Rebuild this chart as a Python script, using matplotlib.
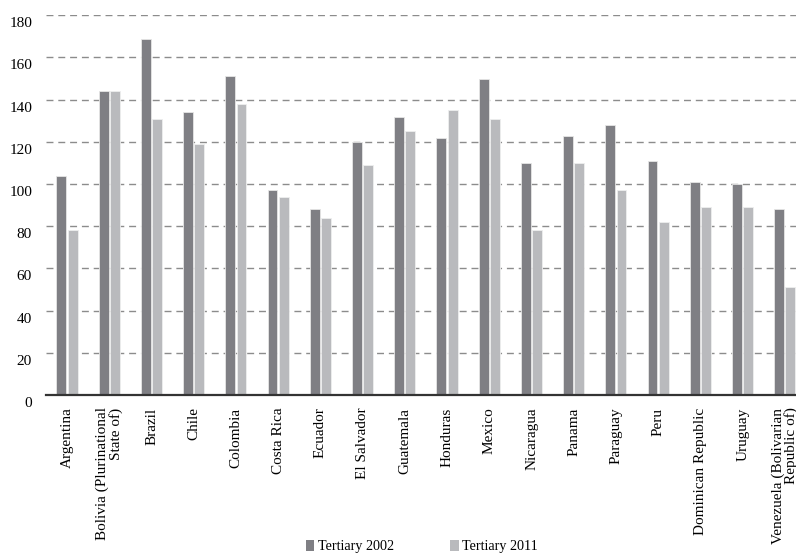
import matplotlib
matplotlib.use("Agg")
import matplotlib.pyplot as plt
import matplotlib.transforms as mtransforms
from matplotlib.patches import Patch
import numpy as np

countries = [
    "Argentina", "Bolivia (Plurinational\nState of)", "Brazil", "Chile", "Colombia",
    "Costa Rica", "Ecuador", "El Salvador", "Guatemala", "Honduras", "Mexico",
    "Nicaragua", "Panama", "Paraguay", "Peru", "Dominican Republic", "Uruguay",
    "Venezuela (Bolivarian\nRepublic of)",
]
tertiary_2002 = [104, 144, 169, 134, 151, 97, 88, 120, 132, 122, 150, 110, 123, 128, 111, 101, 100, 88]
tertiary_2011 = [78, 144, 131, 119, 138, 94, 84, 109, 125, 135, 131, 78, 110, 97, 82, 89, 89, 51]
yticks = [0, 20, 40, 60, 80, 100, 120, 140, 160, 180]

dark = "#7f7f84"
light = "#b9babd"
serif = ["Liberation Serif", "DejaVu Serif"]

fig = plt.figure(figsize=(7.96, 5.56), dpi=100)
ax = fig.add_axes([46 / 796, (556 - 395) / 556, 760 / 796, (395 - 15.3) / 556])

x = np.arange(len(countries))
w = 0.235
ax.bar(x - 0.135, tertiary_2002, width=w, color=dark, edgecolor="#e6e6e6", linewidth=0.6, zorder=3)
ax.bar(x + 0.13, tertiary_2011, width=w, color=light, edgecolor="#eeeeee", linewidth=0.6, zorder=3)

ax.set_xlim(-0.5, len(countries) - 0.5)
ax.set_ylim(0, 180)
ax.set_yticks(yticks)
ax.set_yticklabels([str(v) for v in yticks], fontfamily=serif, fontsize=11)
ax.yaxis.grid(True, linestyle=(0, (5, 3.5)), color="#8c8c8c", linewidth=1.0, zorder=0)
ax.tick_params(axis="y", length=0, pad=10)
offset = mtransforms.ScaledTranslation(0, -7 / 100, fig.dpi_scale_trans)
for lbl in ax.get_yticklabels():
    lbl.set_transform(lbl.get_transform() + offset)

ax.set_xticks(x)
ax.set_xticklabels(countries, rotation=90, fontfamily=serif, fontsize=11, va="top", ha="center",
                   multialignment="right", linespacing=0.95)
ax.tick_params(axis="x", length=0, pad=9)

for side in ["top", "right", "left"]:
    ax.spines[side].set_visible(False)
ax.spines["bottom"].set_color("#333333")
ax.spines["bottom"].set_linewidth(1.6)
ax.spines["bottom"].set_zorder(4)

handles = [Patch(facecolor=dark, edgecolor="none", label="Tertiary 2002"),
           Patch(facecolor=light, edgecolor="none", label="Tertiary 2011")]
fig.legend(handles=handles, loc="lower center", bbox_to_anchor=(0.53, -0.018), ncol=2,
           frameon=False, prop={"family": serif, "size": 10.2}, handlelength=0.6,
           handleheight=0.8, handletextpad=0.25, columnspacing=4.0)

fig.savefig("out.png", dpi=100)
